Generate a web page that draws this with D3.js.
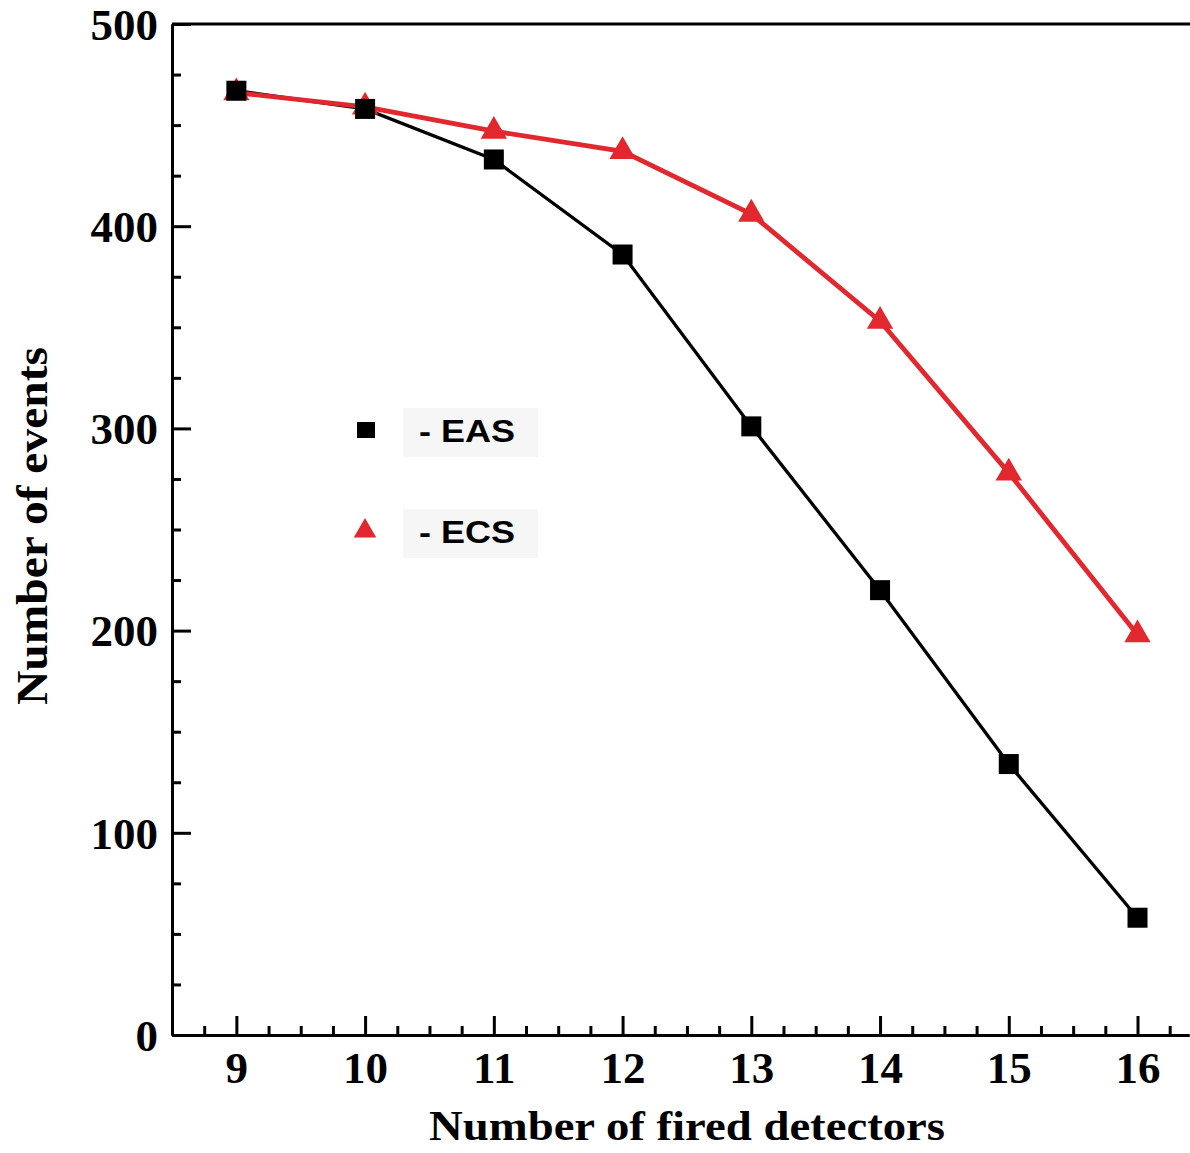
<!DOCTYPE html>
<html>
<head>
<meta charset="utf-8">
<script src="https://cdn.jsdelivr.net/npm/d3@7"></script>
<style>
  body { margin: 0; background: #fff; }
  .axis path, .axis line { stroke: #000; stroke-width: 3; }
  .axis text { font-family: "Liberation Serif", "Times New Roman", serif; font-weight: bold; fill: #000; }
</style>
</head>
<body>
<svg id="chart"></svg>
<script>
// data
const detectors = [9, 10, 11, 12, 13, 14, 15, 16];
const easValues = [467, 458, 433, 386, 301, 220, 134, 58];
const ecsValues = [466, 459, 447, 437, 406, 353, 278, 198];
const xTicks = [9, 10, 11, 12, 13, 14, 15, 16];
const yTicks = [0, 100, 200, 300, 400, 500];

const W = 1190, H = 1153;
const svg = d3.select("#chart").attr("width", W).attr("height", H);

const x = d3.scaleLinear().domain([8.5, 16.4]).range([172, 1189]);
const y = d3.scaleLinear().domain([0, 500]).range([1035, 24]);

// minor ticks every 0.25 / 25
const xMinor = d3.range(8.75, 16.4, 0.25).filter(v => Math.abs(v - Math.round(v)) > 0.01);
const yMinor = d3.range(25, 500, 25).filter(v => v % 100 !== 0);

svg.append("g").attr("class", "axis")
    .attr("transform", `translate(0,${y(0)})`)
    .call(d3.axisBottom(x).tickValues(xMinor).tickSize(-9).tickSizeOuter(0).tickFormat(""));

svg.append("g").attr("class", "axis")
    .attr("transform", `translate(${x(8.5)},0)`)
    .call(d3.axisLeft(y).tickValues(yMinor).tickSize(-9).tickSizeOuter(0).tickFormat(""));

const xAxis = svg.append("g").attr("class", "axis")
    .attr("transform", `translate(0,${y(0)})`)
    .call(d3.axisBottom(x).tickValues(xTicks).tickSize(-19).tickSizeOuter(0).tickPadding(13));
xAxis.selectAll("text").style("font-size", "45px").attr("dy", "0.78em");

const yAxis = svg.append("g").attr("class", "axis")
    .attr("transform", `translate(${x(8.5)},0)`)
    .call(d3.axisLeft(y).tickValues(yTicks).tickSize(-19).tickSizeOuter(0).tickPadding(14));
yAxis.selectAll("text").style("font-size", "45px").attr("dy", "0.34em");

// top frame line
svg.append("line")
    .attr("x1", x(8.5)).attr("x2", W)
    .attr("y1", y(500)).attr("y2", y(500))
    .attr("stroke", "#000").attr("stroke-width", 3);

// axis titles
svg.append("text")
    .attr("x", 687).attr("y", 1140)
    .attr("text-anchor", "middle")
    .attr("textLength", 516).attr("lengthAdjust", "spacingAndGlyphs")
    .style("font-family", "'Liberation Serif', serif")
    .style("font-weight", "bold")
    .style("font-size", "43px")
    .text("Number of fired detectors");

svg.append("text")
    .attr("transform", "translate(47,526) rotate(-90)")
    .attr("text-anchor", "middle")
    .attr("textLength", 358).attr("lengthAdjust", "spacingAndGlyphs")
    .style("font-family", "'Liberation Serif', serif")
    .style("font-weight", "bold")
    .style("font-size", "45px")
    .text("Number of events");

const line = d3.line().x(d => x(d[0])).y(d => y(d[1]));
const eas = detectors.map((d, i) => [d, easValues[i]]);
const ecs = detectors.map((d, i) => [d, ecsValues[i]]);

svg.append("path").datum(eas).attr("d", line)
    .attr("fill", "none").attr("stroke", "#000").attr("stroke-width", 3.3);
svg.append("path").datum(ecs).attr("d", line)
    .attr("fill", "none").attr("stroke", "#e0282e").attr("stroke-width", 4.8);

const tri = d3.symbol().type(d3.symbolTriangle).size(300);
svg.selectAll(".tri").data(ecs).enter().append("path")
    .attr("class", "tri")
    .attr("transform", d => `translate(${x(d[0])},${y(d[1])})`)
    .attr("d", tri).attr("fill", "#e0282e");

svg.selectAll(".sq").data(eas).enter().append("rect")
    .attr("class", "sq")
    .attr("x", d => x(d[0]) - 10).attr("y", d => y(d[1]) - 10)
    .attr("width", 20).attr("height", 20).attr("fill", "#000");

// legend
const legend = [
  { label: "- EAS", type: "square", cy: 430 },
  { label: "- ECS", type: "triangle", cy: 531 }
];
legend.forEach(l => {
    svg.append("rect").attr("x", 403).attr("y", l.cy - 22).attr("width", 135).attr("height", 49)
        .attr("fill", "#f6f6f6");
    if (l.type === "square") {
        svg.append("rect").attr("x", 357).attr("y", l.cy - 8).attr("width", 18).attr("height", 16).attr("fill", "#000");
    } else {
        svg.append("path").attr("transform", `translate(365,${l.cy})`)
            .attr("d", d3.symbol().type(d3.symbolTriangle).size(220)).attr("fill", "#e0282e");
    }
    svg.append("text").attr("x", 419).attr("y", l.cy + 12)
        .attr("textLength", 96).attr("lengthAdjust", "spacingAndGlyphs")
        .style("font-family", "'Liberation Sans', Arial, sans-serif")
        .style("font-weight", "bold").style("font-size", "31px")
        .text(l.label);
});
</script>
</body>
</html>
